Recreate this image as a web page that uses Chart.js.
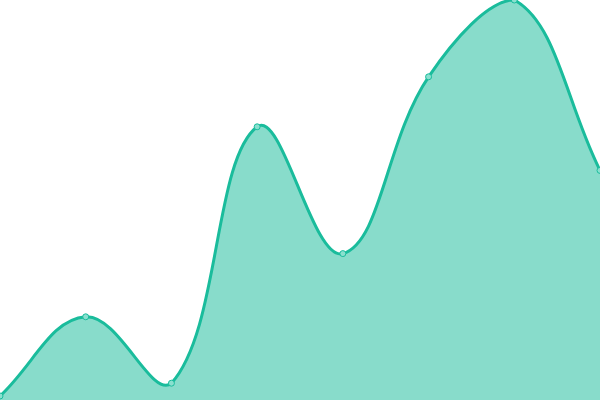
<!DOCTYPE html>
<html>
<head>
<meta charset="utf-8">
<script src="https://cdn.jsdelivr.net/npm/chart.js@4"></script>
<style>
  html, body { margin: 0; padding: 0; background: #fff; }
  #wrap { width: 600px; height: 400px; }
</style>
</head>
<body>
<div id="wrap"><canvas id="chart"></canvas></div>
<script>
const labels = ['1', '2', '3', '4', '5', '6', '7', '8']
const values = [1, 20.8, 4.2, 68.3, 36.6, 80.8, 100, 57.4]

const lineColor = '#1abc9c'

new Chart(document.getElementById('chart'), {
    type: 'line',
    data: {
        labels: labels,
        datasets: [{
            data: values,
            borderColor: lineColor,
            backgroundColor: 'rgba(26, 188, 156, 0.52)',
            borderWidth: 3,
            fill: true,
            tension: 0.4,
            pointRadius: 3,
            pointBorderWidth: 1,
            pointBackgroundColor: '#8ae0cf',
            pointBorderColor: lineColor
        }]
    },
    options: {
        responsive: true,
        maintainAspectRatio: false,
        animation: false,
        // no auto padding, so the area touches every edge
        layout: { padding: 0, autoPadding: false },
        plugins: {
            legend: { display: false },
            tooltip: { enabled: false }
        },
        scales: {
            x: { display: false, offset: false },
            y: { display: false, min: 0, max: 100 }
        }
    }
})
</script>
</body>
</html>
